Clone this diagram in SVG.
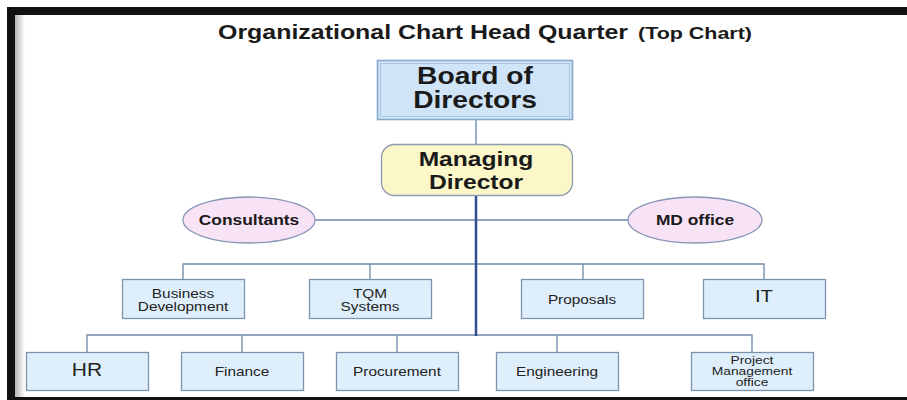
<svg xmlns="http://www.w3.org/2000/svg" width="907" height="400" viewBox="0 0 907 400">
<defs>
<linearGradient id="shade" x1="0" y1="0" x2="1" y2="0">
<stop offset="0" stop-color="#b4b4b4"/>
<stop offset="1" stop-color="#ffffff"/>
</linearGradient>
<style>
.t{font-family:"Liberation Sans",Arial,sans-serif;fill:#222;text-anchor:middle}
.b{font-weight:bold;fill:#1a1a1a}
.box{fill:#deeffb;stroke:#7d93ad;stroke-width:1.3}
.ell{fill:#f8e2f6;stroke:#8796b5;stroke-width:1.3}
.ln{stroke:#6f89a8;stroke-width:1.3;fill:none}
.main{stroke:#2e4e8e;stroke-width:2.5;fill:none}
</style>
</defs>
<rect width="907" height="400" fill="#ffffff"/>
<g id="frame">
<rect x="7" y="7" width="900" height="8" fill="#111"/>
<rect x="7" y="7" width="8" height="393" fill="#111"/>
<rect x="15" y="15" width="10" height="385" fill="url(#shade)"/>
<rect x="7" y="397" width="900" height="3" fill="#111"/>
</g>
<g id="title">
<text class="t b" x="218" y="39" text-anchor="start" style="text-anchor:start;font-size:20.5px" textLength="410" lengthAdjust="spacingAndGlyphs">Organizational Chart Head Quarter</text>
<text class="t b" x="638" y="39" style="text-anchor:start;font-size:16px" textLength="114" lengthAdjust="spacingAndGlyphs">(Top Chart)</text>
</g>
<g id="connectors">
<line class="ln" x1="476" y1="119" x2="476" y2="145" style="stroke:#7f9bb7;stroke-width:1.6"/>
<line class="ln" x1="315" y1="220" x2="628" y2="220"/>
<polyline class="ln" points="183,280 183,264 764,264 764,280"/>
<line class="ln" x1="370" y1="264" x2="370" y2="280"/>
<line class="ln" x1="583" y1="264" x2="583" y2="280"/>
<polyline class="ln" points="87,352 87,335 752,335 752,352"/>
<line class="ln" x1="242" y1="335" x2="242" y2="352"/>
<line class="ln" x1="397" y1="335" x2="397" y2="352"/>
<line class="ln" x1="557" y1="335" x2="557" y2="352"/>
<line class="main" x1="476" y1="195" x2="476" y2="336"/>
</g>
<g id="board">
<rect x="377.5" y="60.5" width="195" height="59" fill="#cfe4f7" stroke="#86a9c9" stroke-width="1.6"/>
<rect x="380.5" y="63.5" width="189" height="53" fill="none" stroke="#a9c6de" stroke-width="1"/>
<text class="t b" transform="translate(475 84) scale(1.2 1)" style="font-size:23.5px">Board of</text>
<text class="t b" transform="translate(475 108) scale(1.2 1)" style="font-size:23.5px">Directors</text>
</g>
<g id="md">
<rect x="381.5" y="144.5" width="191" height="51" rx="13" fill="#fbf7c9" stroke="#8c9bb0" stroke-width="1.3"/>
<text class="t b" transform="translate(476 166) scale(1.2 1)" style="font-size:20.5px">Managing</text>
<text class="t b" transform="translate(476 189) scale(1.2 1)" style="font-size:20.5px">Director</text>
</g>
<g id="consultants">
<ellipse class="ell" cx="249" cy="220" rx="66" ry="23"/>
<text class="t b" transform="translate(249 225) scale(1.2 1)" style="font-size:14.5px">Consultants</text>
</g>
<g id="mdoffice">
<ellipse class="ell" cx="695" cy="220" rx="67" ry="23"/>
<text class="t b" transform="translate(695 225) scale(1.2 1)" style="font-size:14.5px">MD office</text>
</g>
<g id="bizdev">
<rect class="box" x="122.5" y="279.5" width="122" height="39"/>
<text class="t" transform="translate(183 298) scale(1.2 1)" style="font-size:12.8px">Business</text>
<text class="t" transform="translate(183 311) scale(1.2 1)" style="font-size:12.8px">Development</text>
</g>
<g id="tqm">
<rect class="box" x="309.5" y="279.5" width="122" height="39"/>
<text class="t" transform="translate(370 298) scale(1.2 1)" style="font-size:12.8px">TQM</text>
<text class="t" transform="translate(370 311) scale(1.2 1)" style="font-size:12.8px">Systems</text>
</g>
<g id="proposals">
<rect class="box" x="521.5" y="279.5" width="122" height="39"/>
<text class="t" transform="translate(582 304) scale(1.2 1)" style="font-size:12.8px">Proposals</text>
</g>
<g id="it">
<rect class="box" x="703.5" y="279.5" width="122" height="39"/>
<text class="t" transform="translate(764 302) scale(1.2 1)" style="font-size:17px">IT</text>
</g>
<g id="hr">
<rect class="box" x="26.5" y="352.5" width="122" height="38"/>
<text class="t" transform="translate(87 376) scale(1.2 1)" style="font-size:17.5px">HR</text>
</g>
<g id="finance">
<rect class="box" x="181.5" y="352.5" width="122" height="38"/>
<text class="t" transform="translate(242 376) scale(1.2 1)" style="font-size:12.8px">Finance</text>
</g>
<g id="procurement">
<rect class="box" x="336.5" y="352.5" width="122" height="38"/>
<text class="t" transform="translate(397 376) scale(1.2 1)" style="font-size:12.8px">Procurement</text>
</g>
<g id="engineering">
<rect class="box" x="496.5" y="352.5" width="122" height="38"/>
<text class="t" transform="translate(557 376) scale(1.2 1)" style="font-size:12.8px">Engineering</text>
</g>
<g id="pmo">
<rect class="box" x="691.5" y="352.5" width="122" height="38"/>
<text class="t" transform="translate(752 364) scale(1.2 1)" style="font-size:11.5px">Project</text>
<text class="t" transform="translate(752 375) scale(1.2 1)" style="font-size:11.5px">Management</text>
<text class="t" transform="translate(752 386) scale(1.2 1)" style="font-size:11.5px">office</text>
</g>
</svg>
